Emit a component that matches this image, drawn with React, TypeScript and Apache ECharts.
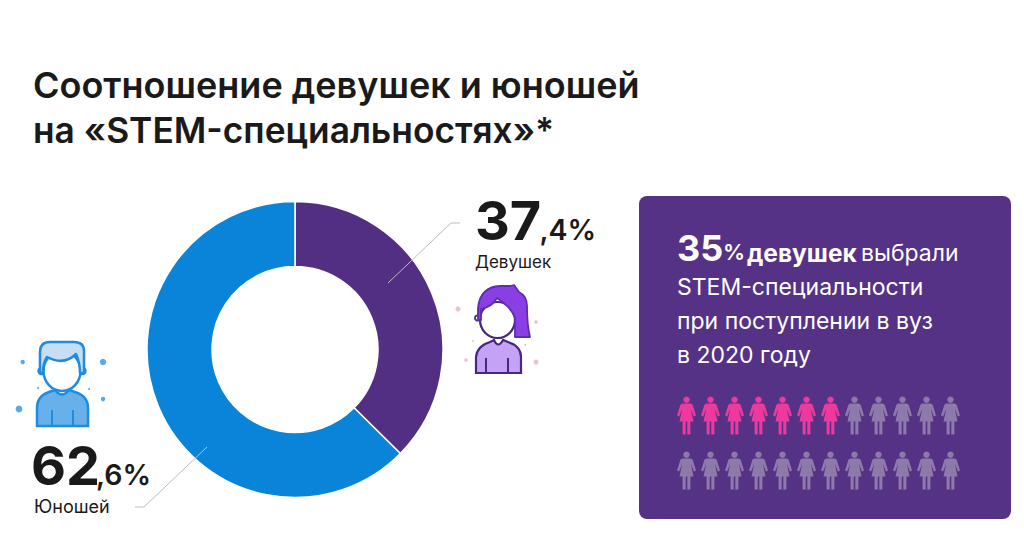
import React, { useEffect, useRef } from "react";
import * as echarts from "echarts";

const categories = ["Девушек", "Юношей"];
const shares = [37.4, 62.6];
const sliceColors = ["#532f83", "#0a84d8"];
const titleLines = ["Соотношение девушек и юношей", "на «STEM-специальностях»*"];
const panelLines = ["STEM-специальности", "при поступлении в вуз", "в 2020 году"];
const pictogramsPerRow = 12;
const pictogramRows = 2;
const highlighted = 7;

const FONT = "Inter, 'Noto Sans', sans-serif";
const DARK = "#1a1a1a";

const WOMAN =
  "M0,0 a3.2,3.2 0 1 1 -0.01,0 Z M-4,7 L4,7 Q5.6,7 6.2,8.6 L9.5,19 L7.4,20 L4.4,12.5 L7,25 L3.9,25 L3.9,38 L0.8,38 L0.8,25 L-0.8,25 L-0.8,38 L-3.9,38 L-3.9,25 L-7,25 L-4.4,12.5 L-7.4,20 L-9.5,19 L-6.2,8.6 Q-5.6,7 -4,7 Z";
const MAN_HAIR =
  "M40,373 L40,352 Q40,342 50,342 L74,342 Q84,342 84,351 L84,373 L80,373 Q80,363 76,354 Q64,366 47,357 Q43,363 43,373 Z";
const MAN_BODY =
  "M37,426 L37,408 Q37,396 49,392 L55,390 Q62,399 69,390 L75,392 Q88,396 88,408 L88,426 Z";
const GIRL_HAIR =
  "M478,320 L478,308 Q480,287 500,286 L510,286 L514,285 L519,292 Q527,296 527,306 Q527,325 530,337 L515,337 L515,318 Q512,308 497,298 Q492,307 481,309 L481,320 Z";
const GIRL_BODY =
  "M476,373 L476,357 Q477,346 490,342 L494,340 Q498,349 503,340 L508,342 Q521,346 521,357 L521,373 Z";

echarts.graphic.registerShape("woman", echarts.graphic.extendPath(WOMAN, {}) as any);
echarts.graphic.registerShape("manHair", echarts.graphic.extendPath(MAN_HAIR, {}) as any);
echarts.graphic.registerShape("manBody", echarts.graphic.extendPath(MAN_BODY, {}) as any);
echarts.graphic.registerShape("girlHair", echarts.graphic.extendPath(GIRL_HAIR, {}) as any);
echarts.graphic.registerShape("girlBody", echarts.graphic.extendPath(GIRL_BODY, {}) as any);

const txt = (text: string, x: number, y: number, fontSize: number, fontWeight: number | string, fill: string) => ({
  type: "text",
  z: 10,
  style: { text, x, y, fontSize, fontWeight, fill, fontFamily: FONT, textAlign: "left", textVerticalAlign: "middle" },
});

const dot = (cx: number, cy: number, r: number, fill: string) => ({
  type: "circle",
  z: 5,
  shape: { cx, cy, r },
  style: { fill },
});

const line = (x1: number, y1: number, x2: number, y2: number, stroke: string, lineWidth = 2) => ({
  type: "line",
  z: 8,
  shape: { x1, y1, x2, y2 },
  style: { stroke, lineWidth },
});

function pictograms() {
  const out: any[] = [];
  for (let r = 0; r < pictogramRows; r++) {
    for (let c = 0; c < pictogramsPerRow; c++) {
      const on = r * pictogramsPerRow + c < highlighted;
      out.push({
        type: "woman",
        z: 6,
        x: 686.5 + c * 24,
        y: 396.5 + r * 55,
        style: { fill: on ? "#ee3a9c" : "#8d7aa8" },
      });
    }
  }
  return out;
}

function boyIcon() {
  const B = "#1e8ce0";
  return [
    ...[[22.7, 362, 2.2], [103, 362, 3.2], [19, 409, 3.4], [103, 399, 2.2], [38, 388, 1], [89, 389, 1]].map(([x, y, r]) =>
      dot(x, y, r, "#5aa9e6"),
    ),
    { type: "circle", z: 6, shape: { cx: 41.5, cy: 371, r: 3 }, style: { fill: "#fff", stroke: B, lineWidth: 2.5 } },
    { type: "circle", z: 6, shape: { cx: 82.5, cy: 371, r: 3 }, style: { fill: "#fff", stroke: B, lineWidth: 2.5 } },
    { type: "manBody", z: 6, style: { fill: "#68b0ea", stroke: B, lineWidth: 2.5 } },
    { type: "ellipse", z: 6, shape: { cx: 62, cy: 371, rx: 18.5, ry: 20 }, style: { fill: "#fff", stroke: B, lineWidth: 2.5 } },
    { type: "manHair", z: 7, style: { fill: "#c6def4", stroke: B, lineWidth: 2.5, lineJoin: "round" } },
    line(52, 410, 52, 426, B),
    line(73, 410, 73, 426, B),
  ];
}

function girlIcon() {
  const S = "#45287f";
  return [
    ...[[458, 309, 2.5], [536, 322, 1.8], [473, 341, 1], [525, 345, 1], [466, 360, 1.8], [536, 362, 2.5]].map(([x, y, r]) =>
      dot(x, y, r, "#e8c2d4"),
    ),
    { type: "circle", z: 6, shape: { cx: 477.5, cy: 318, r: 2.6 }, style: { fill: "#fff", stroke: S, lineWidth: 1.8 } },
    { type: "circle", z: 6, shape: { cx: 517, cy: 318, r: 2.6 }, style: { fill: "#fff", stroke: S, lineWidth: 1.8 } },
    { type: "girlBody", z: 6, style: { fill: "#c4a2f5", stroke: S, lineWidth: 2.2 } },
    { type: "ellipse", z: 6, shape: { cx: 497.5, cy: 320, rx: 17.5, ry: 18 }, style: { fill: "#fff", stroke: S, lineWidth: 2.2 } },
    { type: "girlHair", z: 7, style: { fill: "#8a3fe4", stroke: "#5f2db0", lineWidth: 1.8, lineJoin: "round" } },
    line(486, 358, 486, 373, S),
    line(508, 358, 508, 373, S),
  ];
}

export default function App() {
  const ref = useRef<HTMLDivElement>(null);
  useEffect(() => {
    const chart = echarts.init(ref.current!, undefined, { renderer: "svg" });
    chart.setOption({
      animation: false,
      backgroundColor: "#ffffff",
      series: [
        {
          type: "pie",
          center: [295, 349.5],
          radius: [83, 148],
          startAngle: 90,
          clockwise: true,
          silent: true,
          label: { show: false },
          labelLine: { show: false },
          itemStyle: { borderColor: "#ffffff", borderWidth: 1.5 },
          data: categories.map((name, i) => ({ name, value: shares[i], itemStyle: { color: sliceColors[i] } })),
        },
      ],
      graphic: [
        txt(titleLines[0], 33, 85, 36, 600, DARK),
        txt(titleLines[1], 33, 130, 35.3, 600, DARK),

        { type: "polyline", z: 8, shape: { points: [[388, 283], [451, 223], [460, 223]] }, style: { stroke: "#bcbcbc", lineWidth: 1, fill: "none" } },
        { type: "polyline", z: 8, shape: { points: [[207, 447], [144, 507], [135, 507]] }, style: { stroke: "#bcbcbc", lineWidth: 1, fill: "none" } },

        txt("37", 475, 220, 54, 700, DARK),
        txt(",4%", 539.5, 229.5, 28.5, 600, DARK),
        txt(categories[0], 475, 262, 17, 400, DARK),
        txt("62", 31, 465, 54, 700, DARK),
        txt(",6%", 96, 474, 28.5, 600, DARK),
        txt(categories[1], 34, 506, 18, 400, DARK),

        ...boyIcon(),
        ...girlIcon(),

        { type: "rect", z: 2, shape: { x: 639, y: 196, width: 372, height: 323, r: 8 }, style: { fill: "#553285" } },
        txt("35", 677, 248, 36, 700, "#fff"),
        txt("%", 723, 252, 22, 600, "#fff"),
        txt("девушек", 747, 253, 24.5, 700, "#fff"),
        txt("выбрали", 861, 253, 23, 400, "#fff"),
        txt(panelLines[0], 677, 287, 23, 400, "#fff"),
        txt(panelLines[1], 677, 321, 23, 400, "#fff"),
        txt(panelLines[2], 677, 355, 23, 400, "#fff"),
        ...pictograms(),
      ],
    });
    return () => chart.dispose();
  }, []);
  return <div ref={ref} style={{ position: "fixed", left: 0, top: 0, width: 1024, height: 557 }} />;
}
